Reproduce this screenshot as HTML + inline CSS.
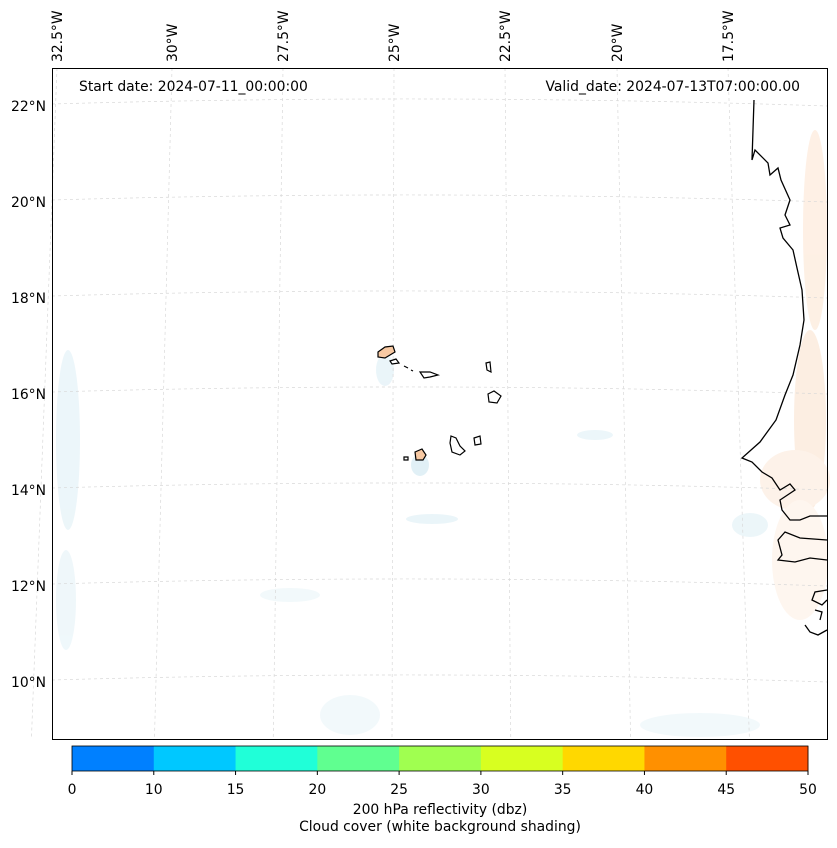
<!DOCTYPE html>
<html><head><meta charset="utf-8"><style>
body{margin:0;background:#fff;font-family:"Liberation Sans","DejaVu Sans",sans-serif;}
svg text{font-family:"DejaVu Sans","Liberation Sans",sans-serif;font-size:13.9px;fill:#000}
</style></head><body>
<svg id="c" width="837" height="843" xmlns="http://www.w3.org/2000/svg">
<g id="shade" opacity="0.75">
 <ellipse cx="68" cy="440" rx="12" ry="90" fill="#e6f3f8"/>
 <ellipse cx="66" cy="600" rx="10" ry="50" fill="#eaf5f9"/>
 <ellipse cx="420" cy="465" rx="9" ry="11" fill="#d8ecf4"/>
 <ellipse cx="385" cy="370" rx="9" ry="16" fill="#e3f1f7"/>
 <ellipse cx="432" cy="519" rx="26" ry="5" fill="#e3f1f7"/>
 <ellipse cx="595" cy="435" rx="18" ry="5" fill="#e6f3f8"/>
 <ellipse cx="290" cy="595" rx="30" ry="7" fill="#eef7fa"/>
 <ellipse cx="350" cy="715" rx="30" ry="20" fill="#eef7fa"/>
 <ellipse cx="700" cy="725" rx="60" ry="12" fill="#eef7fa"/>
 <ellipse cx="750" cy="525" rx="18" ry="12" fill="#e6f3f8"/>
 <ellipse cx="815" cy="230" rx="12" ry="100" fill="#fdebdc"/>
 <ellipse cx="810" cy="420" rx="16" ry="90" fill="#fce9d9"/>
 <ellipse cx="795" cy="480" rx="35" ry="30" fill="#fdeee2"/>
 <ellipse cx="800" cy="560" rx="28" ry="60" fill="#fef3ea"/>
</g>
<g id="grid" stroke="#d8d8d8" stroke-width="0.7" stroke-dasharray="3,3" fill="none"></g>
<g fill="none" stroke="#000" stroke-width="1.3">
 <path d="M754 100 L752 160 L755 150 L768 163 L770 175 L778 168 L781 180 L790 200 L785 215 L790 225 L780 228 L783 238 L793 250 L797 268 L802 290 L804 320 L800 345 L793 375 L785 395 L776 420 L760 442 L742 458 L752 462 L762 472 L772 478 L780 490 L790 484 L795 490 L780 500 L782 510 L790 520 L800 520 L810 516 L827 516"/>
 <path d="M827 540 L800 538 L785 532 L778 540 L782 555 L778 560 L795 562 L810 558 L827 560"/>
 <path d="M827 590 L815 592 L812 600 L822 605 L827 600 M815 610 L822 612 L820 620 M805 625 L810 632 L818 635 L827 630"/>
</g>
<g stroke="#000" stroke-width="1.2">
 <path d="M378 352 L385 347 L393 346 L395 352 L385 358 L378 357Z" fill="#f7c9a3"/>
 <path d="M390 361 L396 359 L399 363 L392 364Z" fill="#fff"/>
 <path d="M404 366 L408 368 M411 370 L413 371" fill="none"/>
 <path d="M420 372 L430 372 L438 375 L430 377 L424 378Z" fill="#fff"/>
 <path d="M486 363 L490 362 L491 372 L487 370Z" fill="#fff"/>
 <path d="M488 394 L494 391 L501 396 L497 403 L489 402Z" fill="#fff"/>
 <path d="M474 438 L480 436 L481 444 L475 445Z" fill="#fff"/>
 <path d="M451 436 L456 438 L460 446 L465 451 L460 455 L452 452 L450 443Z" fill="#fff"/>
 <path d="M415 452 L422 449 L426 455 L423 460 L416 460Z" fill="#f7c9a3"/>
 <path d="M404 457 L408 457 L408 460 L404 460Z" fill="#fff"/>
</g>
<rect x="52.5" y="68.5" width="775" height="671" fill="none" stroke="#000" stroke-width="1"/>
<g id="labels"></g>
<text x="79" y="91">Start date: 2024-07-11_00:00:00</text>
<text x="800" y="91" text-anchor="end">Valid_date: 2024-07-13T07:00:00.00</text>
<g id="cbar"></g>
<text x="440" y="814" text-anchor="middle">200 hPa reflectivity (dbz)</text>
<text x="440" y="831" text-anchor="middle">Cloud cover (white background shading)</text>
</svg>
<script>
const lonLabels=["32.5°W","30°W","27.5°W","25°W","22.5°W","20°W","17.5°W"];
const lonTopX=[57,172,283,394,505,617,728];
const latLabels=["22°N","20°N","18°N","16°N","14°N","12°N","10°N"];
const cbBounds=[0,10,15,20,25,30,35,40,45,50];
const cbColors=["#0080ff","#00c8ff","#20ffd8","#60ff90","#a0ff50","#d8ff20","#ffd800","#ff9000","#ff5000"];
const NS="http://www.w3.org/2000/svg";
function mk(t,a,p){const e=document.createElementNS(NS,t);for(const k in a)e.setAttribute(k,a[k]);p.appendChild(e);return e;}
const grid=document.getElementById('grid'),lab=document.getElementById('labels'),cb=document.getElementById('cbar');
lonTopX.forEach((x,i)=>{
 const xb=392+(x-394)*1.07;
 const l=mk('line',{x1:x,y1:68,x2:xb,y2:739},grid);
 
 
 const t=mk('text',{transform:`translate(${x+5},62) rotate(-90)`},lab);
 t.textContent=lonLabels[i];
 
 
});
latLabels.forEach((s,i)=>{
 const y=107+i*96;
 const p=mk('path',{d:`M52 ${y-3} Q440 ${y-14} 827 ${y-1}`},grid);
 
 
 const t=mk('text',{x:46,y:y+4,'text-anchor':'end'},lab);
 t.textContent=s;
 
 
});
const cx0=72,cx1=808,cy=746,ch=25,n=cbColors.length,w=(cx1-cx0)/n;
cbColors.forEach((c,i)=>{
 const r=mk('rect',{x:cx0+i*w,y:cy,width:w+0.5,height:ch,fill:c},cb);
 
 
});
mk('rect',{x:cx0,y:cy,width:cx1-cx0,height:ch,fill:'none',stroke:'#000','stroke-width':0.8},cb);
cbBounds.forEach((v,i)=>{
 const x=cx0+i*w;
 mk('line',{x1:x,y1:cy+ch,x2:x,y2:cy+ch+4,stroke:'#000'},cb);
 const t=mk('text',{x:x,y:794,'text-anchor':'middle'},cb);
 t.textContent=v;
 
 
});
</script>
</body></html>
